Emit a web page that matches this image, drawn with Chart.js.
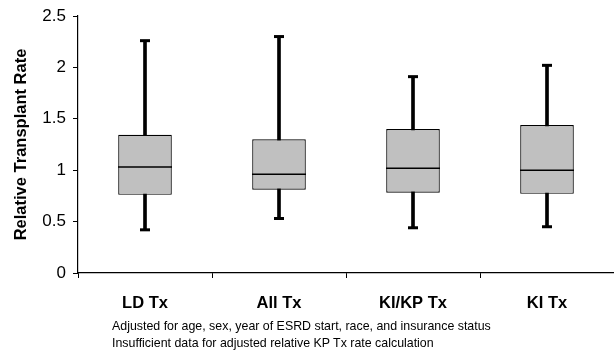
<!DOCTYPE html>
<html>
<head>
<meta charset="utf-8">
<script src="https://cdn.jsdelivr.net/npm/chart.js@4/dist/chart.umd.min.js"></script>
<style>
  html, body { margin: 0; padding: 0; background: #fff; }
  #wrap { position: relative; width: 614px; height: 350px; }
  #notes {
    position: absolute; left: 112px; top: 318px;
    font-family: "Liberation Sans", Arial, sans-serif; font-size: 12.4px;
    line-height: 16.5px; color: #000; white-space: nowrap;
  }
</style>
</head>
<body>
<div id="wrap">
  <canvas id="grafico" width="614" height="350"></canvas>
  <div id="notes">
    <div>Adjusted for age, sex, year of ESRD start, race, and insurance status</div>
    <div>Insufficient data for adjusted relative KP Tx rate calculation</div>
  </div>
</div>
<script>
const categorias = ['LD Tx', 'All Tx', 'KI/KP Tx', 'KI Tx'];
const minimos  = [0.42, 0.53, 0.44, 0.45];
const quartil1 = [0.76, 0.81, 0.78, 0.77];
const medianas = [1.03, 0.96, 1.02, 1.00];
const quartil3 = [1.345, 1.30, 1.40, 1.44];
const maximos  = [2.26, 2.30, 1.91, 2.02];

const fonte = '"Liberation Sans", Arial, sans-serif';

// caixas e bigodes como barras flutuantes, mediana e extremos como pontos tipo "line"
const caixas = quartil1.map((q, i) => [q, quartil3[i]]);
const bigodes = minimos.map((m, i) => [m, maximos[i]]);

const marcador = (dados, raio, espessura) => ({
  type: 'line',
  data: dados,
  showLine: false,
  pointStyle: 'line',
  pointRadius: raio,
  pointHoverRadius: raio,
  pointBorderWidth: espessura,
  pointHoverBorderWidth: espessura,
  pointBorderColor: '#000',
  pointBackgroundColor: '#000',
  order: 1
});

new Chart(document.getElementById('grafico'), {
  type: 'bar',
  data: {
    labels: categorias,
    datasets: [
      {
        data: bigodes,
        backgroundColor: '#000',
        borderWidth: 0,
        barThickness: 3,
        grouped: false,
        order: 4
      },
      {
        data: caixas,
        backgroundColor: '#c0c0c0',
        borderColor: '#000',
        borderWidth: 1.2,
        borderSkipped: false,
        categoryPercentage: 1,
        barPercentage: 0.4,
        grouped: false,
        order: 3
      },
      marcador(medianas, 27, 1.5),
      marcador(maximos, 5, 3),
      marcador(minimos, 5, 3)
    ]
  },
  options: {
    responsive: false,
    animation: false,
    events: [],
    // sem autoPadding os marcadores largos não encolhem a área do gráfico
    layout: { autoPadding: false, padding: { top: 16, right: 0, left: 0, bottom: 0 } },
    plugins: {
      legend: { display: false },
      tooltip: { enabled: false }
    },
    scales: {
      x: {
        offset: true,
        border: { color: '#000', width: 1.2 },
        grid: { offset: true, drawOnChartArea: false, tickLength: 5, color: '#000' },
        ticks: {
          color: '#000',
          padding: 16,
          font: { family: fonte, size: 16.5, weight: 'bold' }
        },
        afterFit: s => {
          s.height = 77;
          s.paddingLeft = 0;
          s.paddingRight = 0;
        }
      },
      y: {
        min: 0,
        max: 2.5,
        border: { color: '#000', width: 1.2 },
        grid: { drawOnChartArea: false, tickLength: 5, color: '#000' },
        ticks: {
          stepSize: 0.5,
          color: '#000',
          padding: 7,
          font: { family: fonte, size: 17 },
          callback: v => String(v)
        },
        title: {
          display: true,
          text: 'Relative Transplant Rate',
          color: '#000',
          padding: { top: 12, bottom: 0 },
          font: { family: fonte, size: 16.5, weight: 'bold' }
        },
        afterFit: s => {
          s.width = 78;
          s.paddingTop = 0;
          s.paddingBottom = 0;
        }
      }
    }
  }
});
</script>
</body>
</html>
